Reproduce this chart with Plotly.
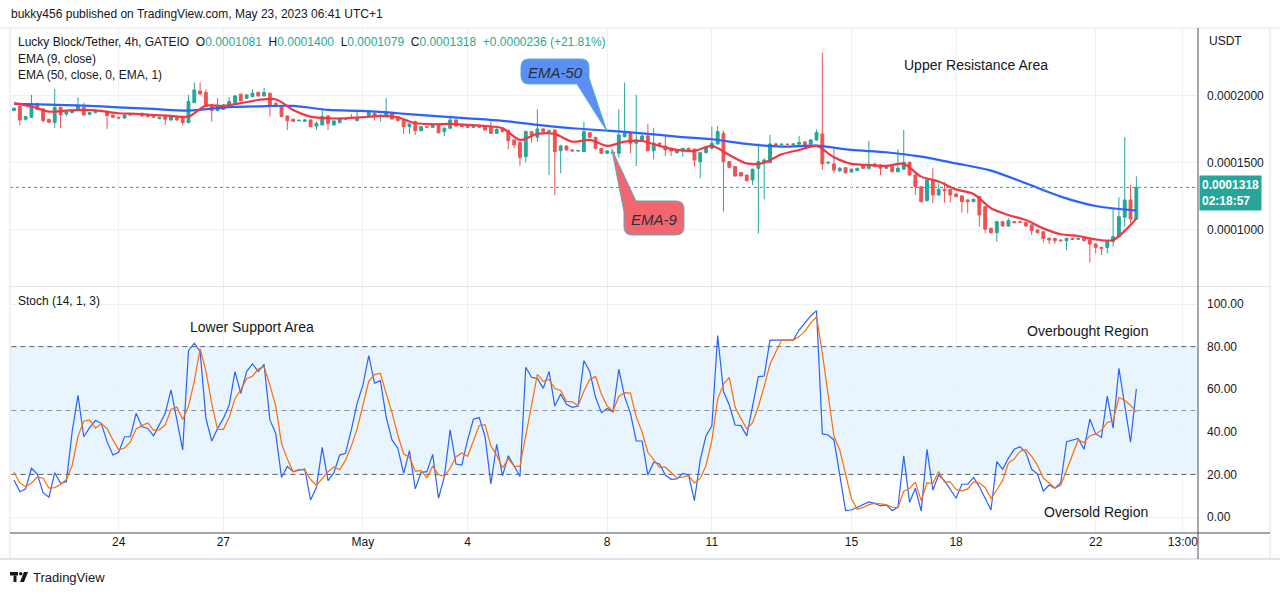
import plotly.graph_objects as go
import pandas as pd

# ---------------- data (prices in units of 1e-7 USDT) ----------------
FIRST_CANDLE = "2023-04-21 01:00"
N_CANDLES = 194
times = pd.date_range(FIRST_CANDLE, periods=N_CANDLES, freq="4h")

OPEN_E7 = [
    1891, 1921, 1826, 1841, 1940, 1903, 1826, 1801, 1915, 1866,
    1876, 1896, 1915, 1863, 1876, 1891, 1883, 1858, 1841, 1836,
    1858, 1866, 1871, 1861, 1858, 1831, 1846, 1821, 1841, 1841,
    1801, 1950, 2037, 2027, 1933, 1891, 1900, 1925, 1950, 2013,
    1983, 1995, 2027, 2000, 2020, 1945, 1921, 1851, 1826, 1816,
    1811, 1821, 1776, 1784, 1851, 1784, 1801, 1833, 1840, 1816,
    1840, 1846, 1871, 1846, 1846, 1876, 1846, 1826, 1771, 1809,
    1741, 1771, 1766, 1784, 1734, 1759, 1821, 1779, 1778, 1766,
    1770, 1771, 1771, 1721, 1759, 1741, 1672, 1652, 1547, 1734,
    1692, 1754, 1734, 1746, 1592, 1627, 1597, 1590, 1585, 1726,
    1691, 1609, 1572, 1582, 1572, 1696, 1721, 1647, 1672, 1701,
    1592, 1647, 1627, 1609, 1577, 1590, 1609, 1602, 1510, 1577,
    1610, 1642, 1721, 1510, 1473, 1428, 1410, 1373, 1460, 1505,
    1502, 1642, 1637, 1640, 1638, 1640, 1657, 1640, 1672, 1716,
    1500, 1493, 1443, 1465, 1433, 1443, 1485, 1460, 1493, 1485,
    1460, 1473, 1435, 1453, 1505, 1410, 1323, 1219, 1373, 1261,
    1303, 1303, 1268, 1254, 1224, 1211, 1249, 1174, 1012, 980,
    1062, 1030, 1062, 1062, 1055, 1037, 1000, 987, 938, 938,
    925, 920, 938, 930, 938, 925, 895, 870, 870, 913,
    950, 1095, 1224, 1081,
]
HIGH_E7 = [
    1915, 1925, 1850, 2008, 1950, 1910, 1830, 2052, 1920, 1895,
    1900, 1990, 1950, 1880, 1900, 1895, 1890, 1860, 1845, 1862,
    1870, 1872, 1875, 1866, 1860, 1845, 1850, 1850, 1848, 1846,
    2008, 2100, 2100, 2050, 1940, 1983, 1940, 1990, 2005, 2018,
    2012, 2050, 2030, 2060, 2025, 1950, 1925, 1855, 1830, 1822,
    1826, 1826, 1809, 1908, 1858, 1818, 1840, 1840, 1866, 1883,
    1846, 1880, 1876, 1860, 1983, 1885, 1850, 1830, 1795, 1815,
    1776, 1776, 1795, 1790, 1766, 1838, 1826, 1786, 1782, 1775,
    1776, 1776, 1808, 1760, 1764, 1750, 1680, 1660, 1742, 1740,
    1901, 1760, 1750, 1750, 1635, 1632, 1602, 1596, 1808, 1728,
    1695, 1612, 1596, 1586, 1900, 2100, 1727, 2008, 1710, 1791,
    1759, 1652, 1709, 1615, 1597, 1612, 1614, 1607, 1580, 1622,
    1771, 1776, 1741, 1515, 1478, 1433, 1415, 1458, 1647, 1535,
    1709, 1650, 1645, 1645, 1646, 1701, 1662, 1678, 1751, 2323,
    1510, 1602, 1470, 1470, 1458, 1465, 1490, 1664, 1498, 1490,
    1483, 1478, 1602, 1746, 1510, 1415, 1328, 1380, 1460, 1353,
    1360, 1308, 1275, 1258, 1230, 1234, 1254, 1180, 1018, 1068,
    1068, 1087, 1068, 1070, 1060, 1042, 1005, 992, 945, 942,
    930, 942, 942, 942, 943, 950, 900, 875, 918, 1162,
    1244, 1692, 1336, 1400,
]
LOW_E7 = [
    1885, 1781, 1815, 1835, 1895, 1800, 1800, 1761, 1759, 1850,
    1870, 1890, 1850, 1855, 1870, 1880, 1754, 1835, 1825, 1830,
    1855, 1860, 1846, 1840, 1836, 1826, 1784, 1815, 1815, 1779,
    1795, 1945, 2005, 1915, 1808, 1885, 1895, 1920, 1945, 1960,
    1975, 1990, 1995, 1995, 1846, 1915, 1840, 1746, 1805, 1810,
    1806, 1766, 1746, 1780, 1746, 1778, 1795, 1822, 1828, 1812,
    1836, 1840, 1816, 1808, 1840, 1822, 1810, 1716, 1716, 1709,
    1736, 1762, 1760, 1720, 1701, 1756, 1770, 1765, 1760, 1762,
    1760, 1740, 1716, 1716, 1728, 1602, 1610, 1478, 1503, 1652,
    1659, 1728, 1410, 1261, 1423, 1592, 1585, 1584, 1580, 1685,
    1600, 1566, 1566, 1568, 1542, 1690, 1572, 1478, 1665, 1585,
    1527, 1635, 1552, 1552, 1570, 1547, 1598, 1473, 1385, 1570,
    1600, 1637, 1137, 1460, 1398, 1398, 1362, 1336, 975, 1229,
    1495, 1632, 1632, 1634, 1632, 1636, 1628, 1636, 1666, 1448,
    1490, 1423, 1428, 1420, 1428, 1438, 1455, 1450, 1468, 1410,
    1455, 1430, 1430, 1448, 1405, 1261, 1206, 1214, 1199, 1256,
    1204, 1204, 1244, 1129, 1124, 1206, 1025, 975, 970, 913,
    1025, 1025, 1050, 1050, 1025, 962, 975, 905, 895, 895,
    915, 850, 925, 925, 915, 756, 826, 813, 826, 875,
    945, 1025, 1050, 1079,
]
CLOSE_E7 = [
    1908, 1821, 1846, 1940, 1900, 1816, 1803, 1915, 1858, 1883,
    1891, 1926, 1858, 1876, 1891, 1883, 1853, 1841, 1836, 1858,
    1866, 1868, 1851, 1846, 1841, 1841, 1826, 1846, 1821, 1801,
    1958, 2045, 2015, 1921, 1891, 1921, 1933, 1958, 2000, 1965,
    2008, 2020, 2000, 2025, 1933, 1921, 1846, 1816, 1811, 1818,
    1821, 1771, 1796, 1846, 1796, 1814, 1826, 1828, 1833, 1833,
    1843, 1876, 1846, 1856, 1871, 1828, 1816, 1771, 1791, 1741,
    1771, 1768, 1789, 1726, 1759, 1821, 1776, 1772, 1766, 1770,
    1768, 1746, 1721, 1751, 1734, 1667, 1634, 1542, 1734, 1709,
    1754, 1734, 1740, 1585, 1627, 1597, 1590, 1592, 1734, 1691,
    1609, 1572, 1590, 1572, 1709, 1721, 1647, 1672, 1701, 1592,
    1647, 1640, 1597, 1590, 1592, 1609, 1602, 1522, 1577, 1617,
    1647, 1734, 1510, 1468, 1403, 1403, 1368, 1453, 1510, 1522,
    1642, 1637, 1640, 1638, 1641, 1652, 1634, 1672, 1726, 1493,
    1505, 1448, 1460, 1428, 1453, 1460, 1460, 1485, 1473, 1460,
    1478, 1435, 1460, 1505, 1410, 1323, 1211, 1373, 1261, 1303,
    1293, 1261, 1249, 1211, 1211, 1229, 1112, 1005, 980, 1062,
    1030, 1070, 1055, 1058, 1030, 995, 980, 938, 925, 920,
    920, 938, 930, 938, 920, 895, 870, 863, 913, 950,
    1099, 1224, 1082, 1318,
]
# EMA-50 read once per day (every 6th candle) plus the last candle
EMA50_E7 = [
    1941, 1935, 1928, 1915, 1903, 1891, 1913, 1922, 1926, 1896,
    1888, 1871, 1851, 1833, 1814, 1784, 1759, 1741, 1721, 1697,
    1677, 1642, 1622, 1629, 1597, 1580, 1547, 1497, 1443, 1348,
    1249, 1179, 1149, 1147,
]
# EMA-9 read every 3rd candle plus the last candle
EMA9_E7 = [
    1946, 1921, 1883, 1891, 1896, 1888, 1871, 1866, 1858, 1851,
    1846, 1928, 1925, 1946, 1970, 1975, 1896, 1846, 1833, 1833,
    1841, 1851, 1841, 1796, 1789, 1791, 1784, 1776, 1759, 1672,
    1717, 1717, 1659, 1672, 1627, 1659, 1664, 1627, 1597, 1590,
    1627, 1560, 1497, 1502, 1565, 1597, 1627, 1542, 1493, 1485,
    1478, 1493, 1398, 1361, 1303, 1269, 1162, 1112, 1074, 1012,
    968, 955, 930, 925, 1037, 1087,
]
STOCH_K = [
    17.4, 11.9, 13.2, 22.9, 20.2, 11.4, 9.3, 20.8, 15.8, 16.6,
    40.1, 57.1, 37.7, 42.0, 45.3, 44.0, 35.4, 29.1, 30.4, 37.7,
    37.7, 48.7, 42.4, 41.6, 38.1, 43.2, 48.7, 59.7, 46.3, 31.5,
    78.1, 81.6, 77.6, 46.3, 35.7, 41.6, 46.3, 52.6, 68.3, 58.1,
    68.3, 71.9, 68.3, 71.7, 45.6, 39.3, 18.6, 23.7, 21.3, 22.1,
    22.6, 8.0, 14.0, 32.7, 17.1, 20.8, 29.1, 29.9, 40.9, 53.4,
    62.0, 75.8, 62.8, 64.0, 46.8, 36.2, 32.3, 20.5, 31.2, 13.2,
    21.0, 21.3, 29.4, 8.8, 19.0, 40.9, 24.9, 24.4, 36.2, 45.9,
    46.7, 37.7, 15.5, 34.1, 19.3, 28.8, 23.7, 19.0, 70.3, 65.6,
    65.1, 60.4, 68.4, 52.1, 57.8, 52.9, 51.5, 52.1, 73.4, 68.3,
    56.2, 49.0, 51.0, 49.3, 69.4, 56.5, 48.7, 35.7, 35.7, 19.7,
    25.7, 24.9, 19.7, 17.7, 17.9, 20.5, 19.7, 7.7, 26.8, 38.2,
    42.7, 85.2, 58.9, 52.6, 43.2, 42.9, 38.1, 51.8, 65.9, 66.2,
    83.1, 83.1, 83.1, 83.1, 83.1, 87.8, 90.9, 94.4, 96.9, 39.0,
    38.5, 36.2, 19.7, 3.0, 3.3, 4.6, 5.7, 7.1, 6.4, 5.2,
    5.7, 3.0, 4.6, 28.7, 6.9, 13.5, 2.8, 31.8, 12.7, 19.7,
    17.1, 12.7, 8.8, 15.4, 15.4, 18.6, 14.3, 8.8, 3.3, 26.0,
    22.4, 27.6, 31.8, 33.0, 30.2, 22.4, 20.2, 12.2, 15.0, 13.5,
    16.1, 35.4, 36.2, 36.9, 31.8, 46.0, 39.0, 37.4, 56.8, 41.7,
    69.8, 52.6, 35.1, 60.1,
]
STOCH_D = [
    21.0, 16.0, 14.2, 16.0, 18.8, 18.2, 13.6, 13.8, 15.3, 17.7,
    24.2, 37.9, 45.0, 45.6, 41.7, 43.8, 41.6, 36.2, 31.6, 32.4,
    35.3, 41.4, 42.9, 44.2, 40.7, 41.0, 43.3, 50.5, 51.6, 45.8,
    52.0, 63.7, 79.1, 68.5, 53.2, 41.2, 41.2, 46.8, 55.7, 59.7,
    64.9, 66.1, 69.5, 70.6, 61.9, 52.2, 34.5, 27.2, 21.2, 22.4,
    22.0, 17.6, 14.9, 18.2, 21.3, 23.5, 22.3, 26.6, 33.3, 41.4,
    52.1, 63.7, 66.9, 67.5, 57.9, 49.0, 38.4, 29.7, 28.0, 21.6,
    21.8, 18.5, 23.9, 19.8, 19.1, 22.9, 28.3, 30.1, 28.5, 35.5,
    42.9, 43.4, 33.3, 29.1, 23.0, 27.4, 23.9, 23.8, 37.7, 51.6,
    67.0, 63.7, 64.6, 60.3, 59.4, 54.3, 54.1, 52.2, 59.0, 64.6,
    66.0, 57.8, 52.1, 49.8, 56.6, 58.4, 58.2, 47.0, 40.0, 30.4,
    27.0, 23.4, 23.4, 20.8, 18.4, 18.7, 19.4, 16.0, 18.1, 24.2,
    35.9, 55.4, 62.3, 65.6, 51.6, 46.2, 41.4, 44.3, 51.9, 61.3,
    71.7, 77.5, 83.1, 83.1, 83.1, 84.7, 87.3, 91.0, 94.1, 76.8,
    58.1, 37.9, 31.5, 19.6, 8.7, 3.6, 4.5, 5.8, 6.4, 6.2,
    5.8, 4.6, 4.4, 12.1, 13.4, 16.4, 7.7, 16.0, 15.8, 21.4,
    16.5, 16.5, 12.9, 12.3, 13.2, 16.5, 16.1, 13.9, 8.8, 12.7,
    17.2, 25.3, 27.3, 30.8, 31.7, 28.5, 24.3, 18.3, 15.8, 13.6,
    14.9, 21.7, 29.2, 36.2, 35.0, 38.2, 38.9, 40.8, 44.4, 45.3,
    56.1, 54.7, 52.5, 49.3,
]

TICK_TIMES = ["2023-04-24 01:00", "2023-04-27 01:00", "2023-05-01 01:00",
              "2023-05-04 01:00", "2023-05-08 01:00", "2023-05-11 01:00",
              "2023-05-15 01:00", "2023-05-18 01:00", "2023-05-22 01:00",
              "2023-05-24 13:00"]
TICK_TEXT = ["24", "27", "May", "4", "8", "11", "15", "18", "22", "13:00"]
PRICE_TICKS = [0.0001, 0.00015, 0.0002]
STOCH_TICKS = [0, 20, 40, 60, 80, 100]
STOCH_LEVELS = [80, 50, 20]
COUNTDOWN = "02:18:57"


def e7(a):
    return [v * 1e-7 for v in a]


opn, hig, low, cls = e7(OPEN_E7), e7(HIGH_E7), e7(LOW_E7), e7(CLOSE_E7)
ema50_t = [times[i] for i in list(range(0, N_CANDLES, 6)) + [N_CANDLES - 1]]
ema9_t = [times[i] for i in list(range(0, N_CANDLES, 3)) + [N_CANDLES - 1]]

# ---------------- page geometry helpers ----------------
W, H = 1280, 595
ML, MR, MT, MB = 10, 82, 28, 62
PW, PH = W - ML - MR, H - MT - MB


def px(x):
    return (x - ML) / PW


def py(y):
    return (H - MB - y) / PH


def P(x, y):
    return f"{px(x):.5f},{py(y):.5f}"


UP, DOWN = "#26a69a", "#ef5350"
TXT = "#131722"
GRID = "#edf0f5"
FONT = "Liberation Sans"

fig = go.Figure()
fig.add_trace(go.Candlestick(
    x=times, open=opn, high=hig, low=low, close=cls,
    increasing=dict(line=dict(color=UP, width=1), fillcolor=UP),
    decreasing=dict(line=dict(color=DOWN, width=1), fillcolor=DOWN),
    whiskerwidth=0, hoverinfo="skip", xaxis="x2", yaxis="y"))
fig.add_trace(go.Scatter(x=ema50_t, y=e7(EMA50_E7), mode="lines",
                         line=dict(color="#2962ff", width=2.2, shape="spline", smoothing=0.8),
                         xaxis="x2", yaxis="y", hoverinfo="skip"))
fig.add_trace(go.Scatter(x=ema9_t, y=e7(EMA9_E7), mode="lines",
                         line=dict(color="#f23645", width=2.2, shape="spline", smoothing=0.8),
                         xaxis="x2", yaxis="y", hoverinfo="skip"))
# horizontal stochastic levels, drawn as traces so they sit just under the K/D lines
for lvl in STOCH_LEVELS:
    fig.add_trace(go.Scatter(x=[times[0] - pd.Timedelta(hours=8), times[-1] + pd.Timedelta(days=3)],
                             y=[lvl, lvl], mode="lines",
                             line=dict(color="#5d606b" if lvl != 50 else "#8f929b", width=1,
                                       dash="5px,4px"),
                             xaxis="x", yaxis="y2", hoverinfo="skip"))
fig.add_trace(go.Scatter(x=times, y=STOCH_K, mode="lines",
                         line=dict(color="#2962ff", width=1.2),
                         xaxis="x", yaxis="y2", hoverinfo="skip"))
fig.add_trace(go.Scatter(x=times, y=STOCH_D, mode="lines",
                         line=dict(color="#ff6d00", width=1.2),
                         xaxis="x", yaxis="y2", hoverinfo="skip"))

x_range = ["2023-04-20 22:14", "2023-05-24 23:24"]
xcommon = dict(type="date", range=x_range, tickvals=TICK_TIMES, ticktext=TICK_TEXT,
               showgrid=True, gridcolor=GRID, gridwidth=1, zeroline=False,
               ticks="", showspikes=False, rangeslider=dict(visible=False))

fig.update_layout(
    width=W, height=H, autosize=False,
    margin=dict(l=ML, r=MR, t=MT, b=MB, pad=0),
    paper_bgcolor="white", plot_bgcolor="white", showlegend=False,
    font=dict(family=FONT, size=12, color=TXT),
    xaxis=dict(**xcommon, domain=[0, 1], anchor="y2", showticklabels=True,
               tickfont=dict(size=12, color=TXT), showline=False),
    xaxis2=dict(**xcommon, domain=[0, 1], anchor="y", matches="x", showticklabels=False,
                showline=False),
    yaxis=dict(domain=[py(286), 1], anchor="x2", side="right",
               range=[582e-7, 2507e-7], tickvals=PRICE_TICKS,
               ticktext=[f"{v:.7f}" for v in PRICE_TICKS],
               showgrid=True, gridcolor=GRID, zeroline=False, ticks="",
               ticklabelstandoff=8, tickfont=dict(size=12, color=TXT), showline=False),
    yaxis2=dict(domain=[0, py(287)], anchor="x", side="right",
                range=[-7.5, 108], tickvals=STOCH_TICKS,
                ticktext=[f"{v:.2f}" for v in STOCH_TICKS],
                showgrid=True, gridcolor=GRID, zeroline=False, ticks="",
                ticklabelstandoff=8, tickfont=dict(size=12, color=TXT), showline=False),
)

shapes = []
# stochastic band
shapes.append(dict(type="rect", xref="paper", yref="y2", x0=0, x1=1, y0=20, y1=80,
                   fillcolor="rgba(33,150,243,0.10)", line=dict(width=0), layer="between"))
# last price dotted line
shapes.append(dict(type="line", xref="paper", yref="y", x0=0, x1=1,
                   y0=cls[-1], y1=cls[-1], line=dict(color=UP, width=1, dash="dot"),
                   layer="between"))
# frame lines
FRAME = "#e0e3eb"
DARK = "#4a4e59"
shapes += [
    dict(type="line", xref="paper", yref="paper", x0=px(0), x1=px(1280), y0=py(28), y1=py(28),
         line=dict(color=FRAME, width=1)),
    dict(type="line", xref="paper", yref="paper", x0=px(10), x1=px(10), y0=py(28), y1=py(559),
         line=dict(color=FRAME, width=1)),
    dict(type="line", xref="paper", yref="paper", x0=px(1270), x1=px(1270), y0=py(28), y1=py(559),
         line=dict(color=FRAME, width=1)),
    dict(type="line", xref="paper", yref="paper", x0=px(0), x1=px(1280), y0=py(559), y1=py(559),
         line=dict(color=FRAME, width=2)),
    dict(type="line", xref="paper", yref="paper", x0=px(10), x1=px(1270), y0=py(286.5), y1=py(286.5),
         line=dict(color=FRAME, width=1)),
    dict(type="line", xref="paper", yref="paper", x0=px(10), x1=px(1270), y0=py(533), y1=py(533),
         line=dict(color=DARK, width=1)),
    dict(type="line", xref="paper", yref="paper", x0=px(1198), x1=px(1198), y0=py(28), y1=py(559),
         line=dict(color=DARK, width=1)),
]
# callouts
blue_path = (f"M{P(529,59)} L{P(581,59)} Q{P(589,59)} {P(589,67)} L{P(589,78)} "
             f"L{P(607,131.5)} L{P(577,84)} L{P(529,84)} Q{P(521,84)} {P(521,76)} "
             f"L{P(521,67)} Q{P(521,59)} {P(529,59)} Z")
red_path = (f"M{P(636,201)} L{P(676,201)} Q{P(684,201)} {P(684,209)} L{P(684,227)} "
            f"Q{P(684,235)} {P(676,235)} L{P(632,235)} Q{P(624,235)} {P(624,227)} "
            f"L{P(624,212)} L{P(611.7,149)} Z")
shapes.append(dict(type="path", xref="paper", yref="paper", path=blue_path,
                   fillcolor="#5b8ff5", line=dict(color="#4fb3c8", width=1)))
shapes.append(dict(type="path", xref="paper", yref="paper", path=red_path,
                   fillcolor="#f2666f", line=dict(color="#58b0bf", width=1)))
# TradingView logo glyph
shapes += [
    dict(type="rect", xref="paper", yref="paper", x0=px(10), x1=px(18), y0=py(572), y1=py(575.5),
         fillcolor="#131722", line=dict(width=0)),
    dict(type="rect", xref="paper", yref="paper", x0=px(13.5), x1=px(16.5), y0=py(575.5), y1=py(582),
         fillcolor="#131722", line=dict(width=0)),
    dict(type="circle", xref="paper", yref="paper", x0=px(19), x1=px(22.5), y0=py(572), y1=py(575.5),
         fillcolor="#131722", line=dict(width=0)),
    dict(type="path", xref="paper", yref="paper",
         path=f"M{P(24,572)} L{P(28,572)} L{P(24,582)} L{P(20,582)} Z",
         fillcolor="#131722", line=dict(width=0)),
]
fig.update_layout(shapes=shapes)

g = "#22ab94"
chg = cls[-1] - cls[-2]
pct = chg / cls[-2] * 100
sp = "&nbsp; "
legend1 = (f"Lucky Block/Tether, 4h, GATEIO{sp}O<span style='color:{g}'>{opn[-1]:.7f}</span>{sp}"
           f"H<span style='color:{g}'>{hig[-1]:.7f}</span>{sp}"
           f"L<span style='color:{g}'>{low[-1]:.7f}</span>{sp}"
           f"C<span style='color:{g}'>{cls[-1]:.7f}</span>{sp}"
           f"<span style='color:{g}'>+{chg:.7f} (+{pct:.2f}%)</span>")


def ann(text, x, y, size=12, color=TXT, xanchor="left", family=FONT, **kw):
    return dict(text=text, x=px(x), y=py(y), xref="paper", yref="paper", showarrow=False,
                xanchor=xanchor, yanchor="middle", font=dict(size=size, color=color, family=family),
                **kw)


annotations = [
    ann("bukky456 published on TradingView.com, May 23, 2023 06:41 UTC+1", 9, 14, size=12),
    ann(legend1, 16, 42, size=12),
    ann("EMA (9, close)", 16, 59, size=12),
    ann("EMA (50, close, 0, EMA, 1)", 16, 75, size=12),
    ann("Stoch (14, 1, 3)", 16, 301, size=12),
    ann("USDT", 1207, 41, size=12),
    ann("Upper Resistance Area", 976, 65, size=14, xanchor="center"),
    ann("Lower Support Area", 252, 327, size=14, xanchor="center"),
    ann("Overbought Region", 1087, 331, size=14, xanchor="center"),
    ann("Oversold Region", 1096, 512, size=14, xanchor="center"),
    ann("<i>EMA-50</i>", 555, 73, size=15, color="#2a2e39", xanchor="center"),
    ann("<i>EMA-9</i>", 654, 219, size=15, color="#2a2e39", xanchor="center"),
    ann("TradingView", 31, 577, size=13),
    ann(f"<b>{cls[-1]:.7f}</b><br><b>{COUNTDOWN}</b>", 1199, 193, size=12, color="white",
        bgcolor=UP, borderpad=2, align="left"),
]
fig.update_layout(annotations=annotations)

fig.write_html("out.html", config={"displayModeBar": False},
               post_script="document.body.style.margin='0';")
